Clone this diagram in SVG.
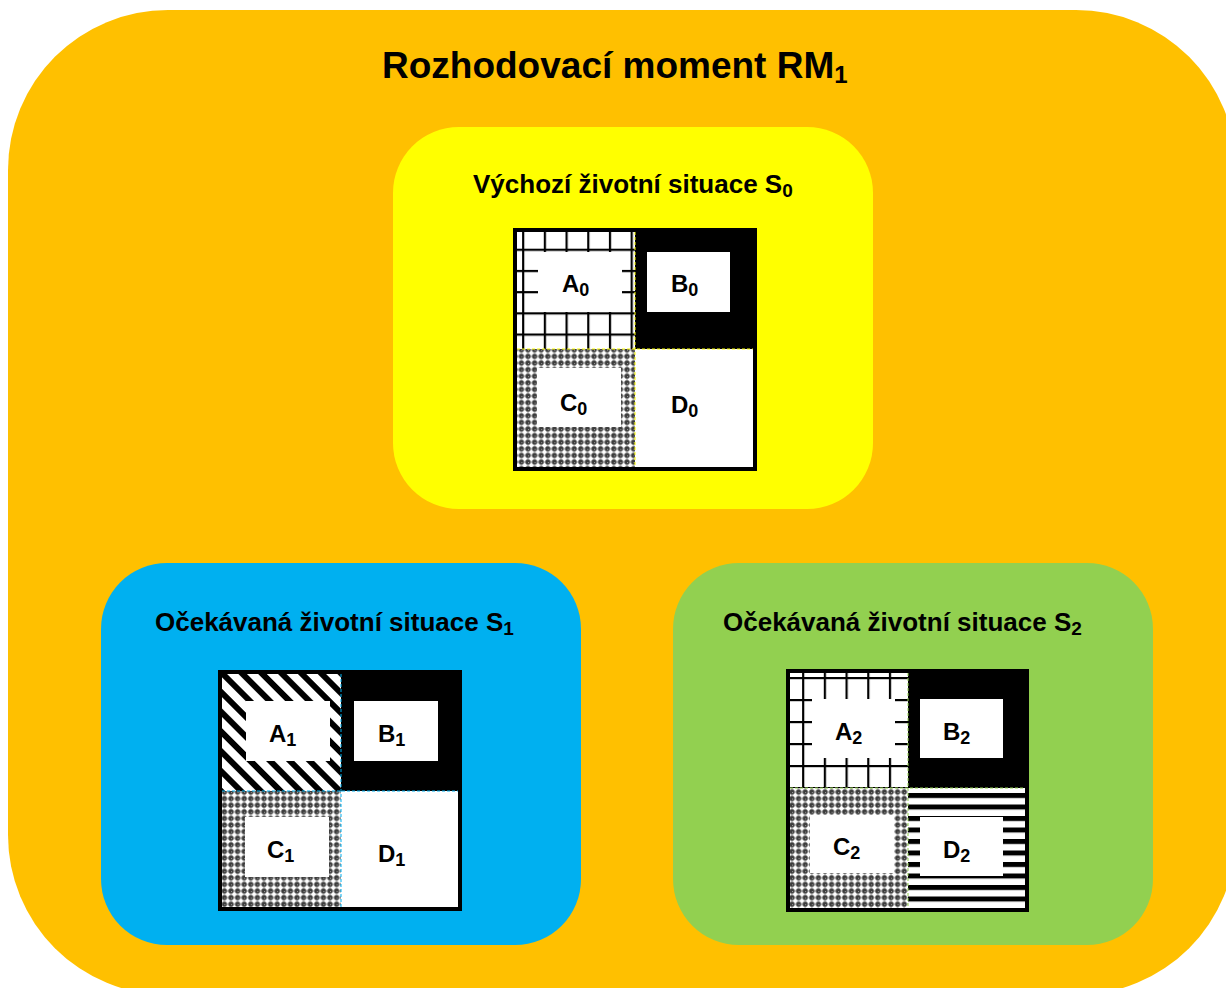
<svg xmlns="http://www.w3.org/2000/svg" width="1226" height="988" viewBox="0 0 1226 988">
  <style>
    .ttl { font-family: "Liberation Sans", Arial, sans-serif; font-weight: bold; fill: #000; }
    .lbl { font-family: "Liberation Sans", Arial, sans-serif; font-weight: bold; font-size: 24px; fill: #000; }
    .sub23 { font-size: 18px; }
    .frame { fill: none; stroke: #000; stroke-width: 4; }
    .wbox { fill: #fff; }
    .blk { fill: #000; }
    .wcell { fill: #fff; }
  </style>
  <defs>
    <!-- square grid hatch, two phases -->
    <pattern id="gridA0" patternUnits="userSpaceOnUse" x="522.1" y="227.5" width="21.7" height="21.2">
      <rect width="21.7" height="21.2" fill="#fff"/>
      <rect width="2.2" height="21.2" fill="#000"/>
      <rect width="21.7" height="2.2" fill="#000"/>
    </pattern>
    <pattern id="gridA2" patternUnits="userSpaceOnUse" x="802.1" y="677" width="21.7" height="22">
      <rect width="21.7" height="22" fill="#fff"/>
      <rect width="2.2" height="22" fill="#000"/>
      <rect width="21.7" height="2.2" fill="#000"/>
    </pattern>
    <!-- small trellis: white crosses on dark -->
    <pattern id="trellis" patternUnits="userSpaceOnUse" width="6.6" height="6.6">
      <rect width="6.6" height="6.6" fill="#3c3c3c"/>
      <rect x="2.4" y="0.3" width="1.8" height="6" fill="#fff"/>
      <rect x="0.3" y="2.4" width="6" height="1.8" fill="#fff"/>
      <rect x="1.7" y="1.7" width="3.2" height="3.2" fill="#fff"/>
      <rect x="0" y="0" width="1" height="1" fill="#999"/>
    </pattern>
    <!-- diagonal stripes -->
    <pattern id="diag" patternUnits="userSpaceOnUse" width="14" height="14" patternTransform="rotate(-45)">
      <rect width="14" height="14" fill="#fff"/>
      <rect width="6" height="14" fill="#000"/>
    </pattern>
    <!-- horizontal stripes -->
    <pattern id="hstripe" patternUnits="userSpaceOnUse" x="0" y="793" width="10" height="11.5">
      <rect width="10" height="11.5" fill="#fff"/>
      <rect width="10" height="5" fill="#000"/>
    </pattern>
  </defs>

  <rect width="1226" height="988" fill="#fff"/>

  <!-- decision moment container -->
  <g id="rm1">
    <rect x="8" y="10" width="1228" height="985" rx="160" ry="160" fill="#FFC000"/>
    <text class="ttl" x="382" y="78" font-size="37">Rozhodovací moment RM<tspan font-size="24" dy="5">1</tspan></text>
  </g>

  <!-- S0: initial situation -->
  <g id="s0">
    <rect x="393" y="127" width="480" height="382" rx="66" ry="66" fill="#FFFF00"/>
    <text class="ttl" x="473" y="193" font-size="26">Výchozí životní situace S<tspan font-size="19" dy="4">0</tspan></text>
    <g id="s0-grid">
      <rect x="517" y="232" width="118" height="117" fill="url(#gridA0)"/>
      <rect x="635" y="232" width="118" height="117" class="blk"/>
      <rect x="517" y="349" width="118" height="118" fill="url(#trellis)"/>
      <rect x="635" y="349" width="118" height="118" class="wcell"/>
      <path d="M635 232V467M517 349H753" stroke="#FFFF00" stroke-width="1" stroke-dasharray="3 2" fill="none"/>
      <rect x="538" y="252" width="84" height="60" class="wbox"/>
      <rect x="647" y="252" width="83" height="60" class="wbox"/>
      <rect x="537" y="368" width="84" height="59" class="wbox"/>
      <rect x="515" y="230" width="240" height="239" class="frame"/>
      <text class="lbl" x="562" y="292">A<tspan class="sub23" dy="4">0</tspan></text>
      <text class="lbl" x="671" y="292">B<tspan class="sub23" dy="4">0</tspan></text>
      <text class="lbl" x="560" y="411">C<tspan class="sub23" dy="4">0</tspan></text>
      <text class="lbl" x="671" y="413">D<tspan class="sub23" dy="4">0</tspan></text>
    </g>
  </g>

  <!-- S1: expected situation -->
  <g id="s1">
    <rect x="101" y="563" width="480" height="382" rx="66" ry="66" fill="#00B0F0"/>
    <text class="ttl" x="155" y="631" font-size="26">Očekávaná životní situace S<tspan font-size="19" dy="4">1</tspan></text>
    <g id="s1-grid">
      <rect x="222" y="674" width="119" height="117" fill="url(#diag)"/>
      <rect x="341" y="674" width="117" height="117" class="blk"/>
      <rect x="222" y="791" width="119" height="116" fill="url(#trellis)"/>
      <rect x="341" y="791" width="117" height="116" class="wcell"/>
      <path d="M341 674V907M222 791H458" stroke="#00B0F0" stroke-width="1" stroke-dasharray="3 2" fill="none"/>
      <rect x="246" y="701" width="84" height="60" class="wbox"/>
      <rect x="354" y="701" width="84" height="60" class="wbox"/>
      <rect x="245" y="817" width="84" height="60" class="wbox"/>
      <rect x="220" y="672" width="240" height="237" class="frame"/>
      <text class="lbl" x="269" y="742">A<tspan class="sub23" dy="4">1</tspan></text>
      <text class="lbl" x="378" y="742">B<tspan class="sub23" dy="4">1</tspan></text>
      <text class="lbl" x="267" y="858">C<tspan class="sub23" dy="4">1</tspan></text>
      <text class="lbl" x="378" y="862">D<tspan class="sub23" dy="4">1</tspan></text>
    </g>
  </g>

  <!-- S2: expected situation -->
  <g id="s2">
    <rect x="673" y="563" width="480" height="382" rx="66" ry="66" fill="#92D050"/>
    <text class="ttl" x="723" y="631" font-size="26">Očekávaná životní situace S<tspan font-size="19" dy="4">2</tspan></text>
    <g id="s2-grid">
      <rect x="790" y="673" width="118" height="115" fill="url(#gridA2)"/>
      <rect x="908" y="673" width="117" height="115" class="blk"/>
      <rect x="790" y="788" width="118" height="120" fill="url(#trellis)"/>
      <rect x="908" y="788" width="117" height="120" fill="url(#hstripe)"/>
      <path d="M908 673V908M790 788H1025" stroke="#92D050" stroke-width="1" stroke-dasharray="3 2" fill="none"/>
      <rect x="812" y="699" width="83" height="59" class="wbox"/>
      <rect x="920" y="699" width="83" height="59" class="wbox"/>
      <rect x="810" y="815" width="84" height="58" class="wbox"/>
      <rect x="920" y="817" width="83" height="59" class="wbox"/>
      <rect x="788" y="671" width="239" height="239" class="frame"/>
      <text class="lbl" x="835" y="740">A<tspan class="sub23" dy="4">2</tspan></text>
      <text class="lbl" x="943" y="740">B<tspan class="sub23" dy="4">2</tspan></text>
      <text class="lbl" x="833" y="855">C<tspan class="sub23" dy="4">2</tspan></text>
      <text class="lbl" x="943" y="858">D<tspan class="sub23" dy="4">2</tspan></text>
    </g>
  </g>

  <g id="connectors"/>
</svg>
